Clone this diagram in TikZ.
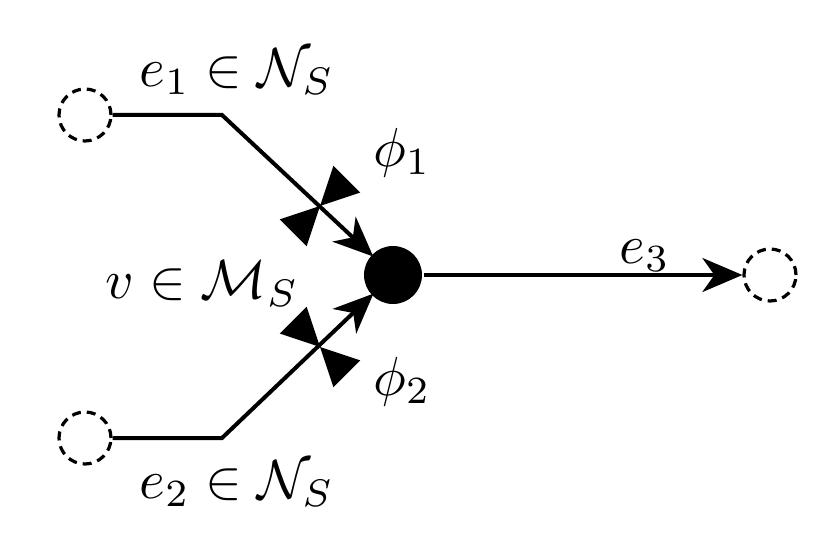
\documentclass[tikz,border=0pt]{standalone}
\usepackage{graphicx}
\usetikzlibrary{arrows.meta}
\begin{document}
\begin{tikzpicture}[x=1pt,y=-1pt,line width=4pt,
  port/.style={circle,draw,dashed,dash pattern=on 9pt off 6pt,line width=3.2pt,minimum size=52pt,inner sep=0pt},
  junction/.style={circle,fill=black,minimum size=58pt,inner sep=0pt},
  flow/.style={-{Stealth[length=40pt,width=34pt,inset=12pt]}}]
\useasboundingbox (0,0) rectangle (828,548);
\node[port] (p1) at (85,115) {};
\node[port] (p2) at (85,438) {};
\node[port] (p3) at (770,275) {};
\node[junction] (v) at (393,275) {};
\coordinate (k1) at (222,115);
\coordinate (k2) at (222,438);
\draw[flow,shorten >=-4pt] (p1) -- (k1) -- (v);
\draw[flow,shorten >=-4pt] (p2) -- (k2) -- (v);
\draw[flow] (v) -- (p3);
% valves
\coordinate (c1) at (320,206);
\coordinate (c2) at (320,347);
\foreach \c/\ang in {c1/45,c2/-45}{
  \begin{scope}[shift={(\c)},rotate=\ang,y=1pt]
  \fill (0,0) -- (38,-19) -- (38,19) -- cycle;
  \fill (0,0) -- (-38,-19) -- (-38,19) -- cycle;
  \end{scope}}
\node (t1) at (237,72) {\scalebox{5.5}{$e_1\in\mathcal{N}_S$}};
\node (t2) at (237,484) {\scalebox{5.5}{$e_2\in\mathcal{N}_S$}};
\node (t3) at (645,256) {\scalebox{5.5}{$e_3$}};
\node (tv) at (202,284) {\scalebox{5.5}{$v\in\mathcal{M}_S$}};
\node (f1) at (402,153) {\scalebox{5.5}{$\phi_1$}};
\node (f2) at (402,382) {\scalebox{5.5}{$\phi_2$}};
\end{tikzpicture}
\end{document}
